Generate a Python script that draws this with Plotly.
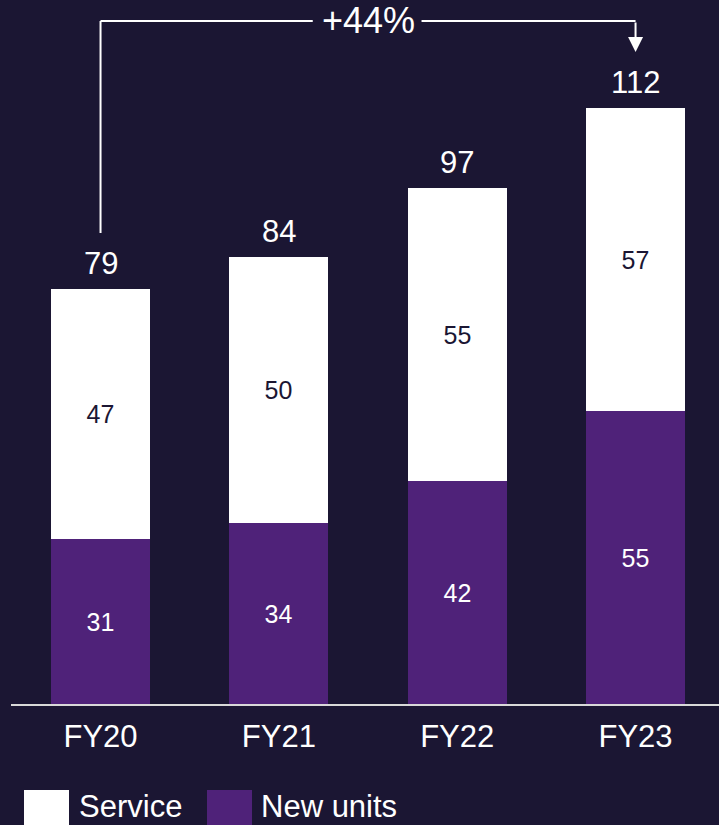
import plotly.graph_objects as go

categories = ["FY20", "FY21", "FY22", "FY23"]
new_units = [31, 34, 42, 55]
service = [47, 50, 55, 57]
totals = [79, 84, 97, 112]
growth_label = "+44%"
series_names = ["Service", "New units"]

BG = "#1b1633"
PURPLE = "#4f2279"
WHITE = "#ffffff"
DARK_TEXT = "#1b1633"
FONT = "Liberation Sans, Arial, sans-serif"

fig = go.Figure()
fig.add_bar(
    x=categories, y=new_units, name=series_names[1],
    marker=dict(color=PURPLE, line=dict(width=0)),
    text=new_units, textposition="inside", insidetextanchor="middle",
    textfont=dict(color=WHITE, size=25, family=FONT),
    width=0.555, showlegend=False, constraintext="none",
)
fig.add_bar(
    x=categories, y=service, name=series_names[0],
    marker=dict(color=WHITE, line=dict(width=0)),
    text=service, textposition="inside", insidetextanchor="middle",
    textfont=dict(color=DARK_TEXT, size=25, family=FONT),
    width=0.555, showlegend=False, constraintext="none",
)

# totals above bars
for c, nu, sv, t in zip(categories, new_units, service, totals):
    fig.add_annotation(
        x=c, y=nu + sv, text=str(t), showarrow=False, yanchor="bottom",
        yshift=6, font=dict(color=WHITE, size=31, family=FONT),
    )

# growth bracket
y_top = (704 - 21) / 704
y_left_bottom = (704 - 233) / 704
y_tip = (704 - 52) / 704
gap_left, gap_right = 1.19, 1.80  # gap around the growth label (category units)
fig.add_shape(type="line", xref="x", yref="paper", x0=0, x1=0,
              y0=y_left_bottom, y1=y_top, line=dict(color=WHITE, width=2))
fig.add_shape(type="line", xref="x", yref="paper", x0=0, x1=gap_left,
              y0=y_top, y1=y_top, line=dict(color=WHITE, width=2))
fig.add_shape(type="line", xref="x", yref="paper", x0=gap_right, x1=3,
              y0=y_top, y1=y_top, line=dict(color=WHITE, width=2))
fig.add_annotation(
    x=3, y=y_tip, xref="x", yref="paper", ax=0, ay=-(52 - 21),
    axref="pixel", ayref="pixel", text="", showarrow=True,
    arrowhead=2, arrowsize=1.5, arrowwidth=2, arrowcolor=WHITE, standoff=0,
)
fig.add_annotation(
    x=1.5, y=y_top, xref="x", yref="paper", text=growth_label, showarrow=False,
    yanchor="middle", font=dict(color=WHITE, size=36, family=FONT),
)

# legend
def px_x(p):
    return (p - 11) / 708

def px_y(p):
    return (704 - p) / 704

for x0, x1, col, lbl, tx in [(24, 69, WHITE, series_names[0], 78),
                             (207, 252, PURPLE, series_names[1], 260)]:
    fig.add_shape(type="rect", xref="paper", yref="paper",
                  x0=px_x(x0), x1=px_x(x1), y0=px_y(790), y1=px_y(840),
                  fillcolor=col, line=dict(width=0))
    fig.add_annotation(x=px_x(tx), y=px_y(806), xref="paper", yref="paper",
                       text=lbl, showarrow=False, xanchor="left", yanchor="middle",
                       borderpad=0,
                       font=dict(color=WHITE, size=31, family=FONT))

fig.update_layout(
    width=719, height=825, barmode="stack",
    paper_bgcolor=BG, plot_bgcolor=BG,
    margin=dict(l=11, r=0, t=0, b=121),
    font=dict(family=FONT, color=WHITE),
    xaxis=dict(range=[-0.502, 3.468], showline=True, linecolor="#d9d9d9",
               linewidth=2, showgrid=False, zeroline=False, ticks="",
               tickfont=dict(size=31, color=WHITE, family=FONT),
               ticklabelstandoff=4),
    yaxis=dict(range=[0, 704 / 5.32], visible=False, showgrid=False),
    bargap=0,
)

fig.write_html("out.html", config={"displayModeBar": False},
               post_script="document.body.style.margin='0px';")
